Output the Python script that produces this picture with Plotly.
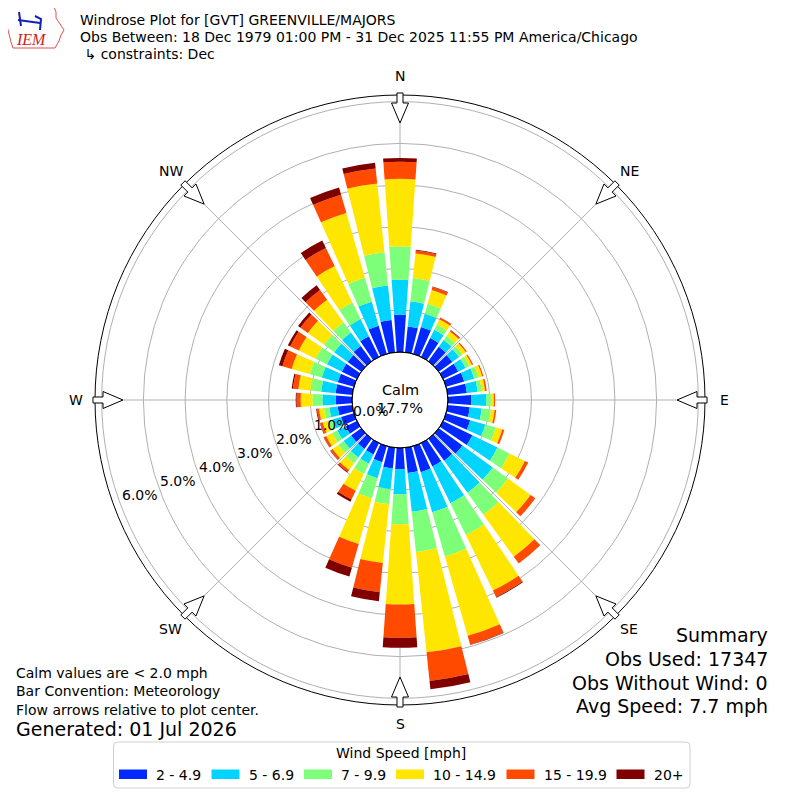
import math
import plotly.graph_objects as go

# Wind directions (deg, meteorological convention) and frequency (%) per speed bin
directions = list(range(0, 360, 10))
speed_bins = ['2 - 4.9', '5 - 6.9', '7 - 9.9', '10 - 14.9', '15 - 19.9', '20+']
bin_colors = ['#0028ff', '#00d4ff', '#7dff7a', '#ffe600', '#ff4a00', '#800000']

freq_2_5 = [0.89, 0.62, 0.67, 0.50, 0.43, 0.40, 0.40, 0.45, 0.46, 0.56, 0.53, 0.60,
            0.78, 0.70, 0.65, 0.62, 0.65, 0.61, 0.51, 0.50, 0.40, 0.30, 0.30, 0.30,
            0.30, 0.32, 0.35, 0.39, 0.40, 0.40, 0.40, 0.40, 0.45, 0.55, 0.70, 0.78]
freq_5_7 = [0.84, 0.61, 0.33, 0.22, 0.20, 0.20, 0.20, 0.25, 0.26, 0.36, 0.29, 0.38,
            0.67, 0.90, 0.95, 0.98, 1.00, 0.93, 0.60, 0.50, 0.40, 0.25, 0.25, 0.22,
            0.22, 0.20, 0.20, 0.32, 0.35, 0.40, 0.40, 0.40, 0.40, 0.45, 0.60, 0.83]
freq_7_10 = [0.80, 0.56, 0.25, 0.14, 0.12, 0.10, 0.10, 0.11, 0.10, 0.11, 0.22, 0.26,
             0.32, 0.45, 0.65, 0.85, 1.10, 0.97, 0.72, 0.36, 0.50, 0.27, 0.17, 0.16,
             0.14, 0.13, 0.13, 0.24, 0.25, 0.30, 0.30, 0.30, 0.30, 0.45, 0.60, 0.80]
freq_10_15 = [1.62, 0.59, 0.34, 0.14, 0.13, 0.10, 0.07, 0.09, 0.08, 0.07, 0.09, 0.16,
              0.41, 0.67, 1.24, 1.48, 1.98, 2.42, 1.92, 1.42, 1.14, 0.45, 0.20, 0.17,
              0.16, 0.13, 0.12, 0.28, 0.30, 0.45, 0.45, 0.48, 0.67, 0.97, 1.61, 1.66]
freq_15_20 = [0.41, 0.07, 0.08, 0.04, 0.03, 0.03, 0.03, 0.03, 0.04, 0.03, 0.04, 0.05,
              0.09, 0.14, 0.20, 0.17, 0.22, 0.69, 0.80, 0.70, 0.59, 0.23, 0.06, 0.06,
              0.06, 0.06, 0.05, 0.10, 0.13, 0.23, 0.23, 0.22, 0.29, 0.48, 0.46, 0.36]
freq_20 = [0.09, 0.02, 0.01, 0.01, 0.01, 0.00, 0.00, 0.00, 0.00, 0.00, 0.00, 0.00,
           0.00, 0.00, 0.00, 0.02, 0.01, 0.20, 0.24, 0.22, 0.22, 0.06, 0.02, 0.01,
           0.01, 0.01, 0.02, 0.02, 0.03, 0.09, 0.06, 0.07, 0.14, 0.20, 0.18, 0.14]
series = [freq_2_5, freq_5_7, freq_7_10, freq_10_15, freq_15_20, freq_20]

calm_pct = '17.7%'
ring_vals = [0, 1, 2, 3, 4, 5, 6]
compass = ['N', 'NE', 'E', 'SE', 'S', 'SW', 'W', 'NW']

# page is 800x800, the browser puts the figure 8px in from the corner
PAGE = 800
OFF = 8
FIG = PAGE - OFF
CX, CY = 400, 400
R_OUT = 305
R_HOLE = 48
R_MAX = 6.16


def paper(x, y):
    # page pixels -> paper fraction
    return (x - OFF) / FIG, 1 - (y - OFF) / FIG


def pathstr(pts, close=True):
    s = 'M ' + ' L '.join(f'{x:.5f},{y:.5f}' for x, y in (paper(*p) for p in pts))
    return s + (' Z' if close else '')


fig = go.Figure()

for name, vals, col in zip(speed_bins, series, bin_colors):
    fig.add_trace(go.Barpolar(r=vals, theta=directions, width=8, name=name, showlegend=False,
                              marker=dict(color=col, line=dict(width=0))))

dx0, dy0 = paper(CX - R_OUT, CY + R_OUT)
dx1, dy1 = paper(CX + R_OUT, CY - R_OUT)

fig.update_layout(
    width=FIG, height=FIG,
    margin=dict(l=0, r=0, t=0, b=0),
    paper_bgcolor='white',
    font=dict(family='DejaVu Sans', size=14, color='black'),
    polar=dict(
        domain=dict(x=[dx0, dx1], y=[dy0, dy1]),
        hole=R_HOLE / R_OUT,
        bgcolor='white',
        barmode='stack',
        radialaxis=dict(range=[0, R_MAX], tickvals=ring_vals[1:], showticklabels=False,
                        ticks='', showline=False, gridcolor='#b0b0b0', gridwidth=1),
        angularaxis=dict(rotation=90, direction='clockwise', tickvals=list(range(0, 360, 45)),
                         showticklabels=False, ticks='', showline=True, linecolor='black',
                         linewidth=1, gridcolor='#b0b0b0', gridwidth=1),
    ),
)

shapes = []
annotations = []


def label(x, y, text, size=14, anchor='center', **kw):
    lx, ly = paper(x, y)
    annotations.append(dict(x=lx, y=ly, text=text, showarrow=False, xanchor=anchor,
                            yanchor='middle', font=dict(size=size, **kw)))


# calm circle
x0, y0 = paper(CX - R_HOLE, CY + R_HOLE)
x1, y1 = paper(CX + R_HOLE, CY - R_HOLE)
shapes.append(dict(type='circle', xref='paper', yref='paper', x0=x0, y0=y0, x1=x1, y1=y1,
                   line=dict(color='black', width=1)))

# flow arrows at the 8 compass points, pointing to the centre
for i, lab in enumerate(compass):
    a = math.radians(i * 45)
    ux, uy = math.sin(a), -math.cos(a)
    px_, py_ = math.cos(a), math.sin(a)
    pts = [(CX + r * ux + w * px_, CY + r * uy + w * py_)
           for r, w in [(307, 3), (297, 3), (297, 8.5), (277, 0), (297, -8.5), (297, -3), (307, -3)]]
    shapes.append(dict(type='path', xref='paper', yref='paper', path=pathstr(pts),
                       fillcolor='white', line=dict(color='black', width=1)))
    label(CX + 324 * ux, CY + 324 * uy, lab)

# radial ring labels
a = math.radians(250)
for v in ring_vals:
    d = 31 + 41 * v
    label(CX + d * math.sin(a), CY - d * math.cos(a), f'{v:.1f}%')

# calm text
label(CX, 390, 'Calm', 14.5)
label(CX, 408, calm_pct, 14.5)

# header
header = ['Windrose Plot for [GVT] GREENVILLE/MAJORS',
          'Obs Between: 18 Dec 1979 01:00 PM - 31 Dec 2025 11:55 PM America/Chicago',
          ' ↳ constraints: Dec']
for txt, yy in zip(header, [20, 37, 54]):
    label(78, yy, txt, 14, 'left')

# footer notes
notes = [('Calm values are < 2.0 mph', 673, 14), ('Bar Convention: Meteorology', 691, 14),
         ('Flow arrows relative to plot center.', 710, 14), ('Generated: 01 Jul 2026', 729, 19)]
for txt, yy, fs in notes:
    label(14, yy, txt, fs, 'left')

summary = [('Summary', 635), ('Obs Used: 17347', 659), ('Obs Without Wind: 0', 683),
           ('Avg Speed: 7.7 mph', 706)]
for txt, yy in summary:
    label(770, yy, txt, 19, 'right')

# legend box (drawn by hand to get matplotlib-like wide swatches)
bx0, by0, bx1, by1, rc = 113.5, 742, 690, 788, 4
box = (f'M {paper(bx0 + rc, by0)[0]:.5f},{paper(0, by0)[1]:.5f} '
       f'L {paper(bx1 - rc, by0)[0]:.5f},{paper(0, by0)[1]:.5f} '
       f'Q {paper(bx1, by0)[0]:.5f},{paper(0, by0)[1]:.5f} {paper(bx1, 0)[0]:.5f},{paper(0, by0 + rc)[1]:.5f} '
       f'L {paper(bx1, 0)[0]:.5f},{paper(0, by1 - rc)[1]:.5f} '
       f'Q {paper(bx1, 0)[0]:.5f},{paper(0, by1)[1]:.5f} {paper(bx1 - rc, 0)[0]:.5f},{paper(0, by1)[1]:.5f} '
       f'L {paper(bx0 + rc, 0)[0]:.5f},{paper(0, by1)[1]:.5f} '
       f'Q {paper(bx0, 0)[0]:.5f},{paper(0, by1)[1]:.5f} {paper(bx0, 0)[0]:.5f},{paper(0, by1 - rc)[1]:.5f} '
       f'L {paper(bx0, 0)[0]:.5f},{paper(0, by0 + rc)[1]:.5f} '
       f'Q {paper(bx0, 0)[0]:.5f},{paper(0, by0)[1]:.5f} {paper(bx0 + rc, 0)[0]:.5f},{paper(0, by0)[1]:.5f} Z')
shapes.append(dict(type='path', xref='paper', yref='paper', path=box, fillcolor='white',
                   line=dict(color='#d0d0d0', width=1)))
label(401, 753, 'Wind Speed [mph]', 14)
swatch_x = [119, 211.5, 304, 396, 506.5, 616.5]
for sx, name, col in zip(swatch_x, speed_bins, bin_colors):
    sx0, sy0 = paper(sx, 779)
    sx1, sy1 = paper(sx + 28, 769.5)
    shapes.append(dict(type='rect', xref='paper', yref='paper', x0=sx0, y0=sy0, x1=sx1, y1=sy1,
                       fillcolor=col, line=dict(width=0)))
    label(sx + 35, 774.5, name, 14, 'left')

# IEM logo (rough)
iowa = [(8, 7), (54, 7), (56, 12), (56, 18), (60, 24), (64, 30), (61, 35), (59, 41),
        (55, 48), (13, 48), (11, 42), (9, 34), (7, 26), (5, 16)]
shapes.append(dict(type='path', xref='paper', yref='paper', path=pathstr(iowa),
                   line=dict(color='#e05050', width=1)))
for seg in [[(18, 20), (40, 23)], [(19, 12), (21, 26)], [(35, 16), (41, 19), (40, 30)]]:
    shapes.append(dict(type='path', xref='paper', yref='paper', path=pathstr(seg, False),
                       line=dict(color='#1020c0', width=2)))
label(31, 39, '<i>IEM</i>', 16, color='#d02020', family='Liberation Serif')

fig.update_layout(shapes=shapes, annotations=annotations)

fig.write_html('out.html')
